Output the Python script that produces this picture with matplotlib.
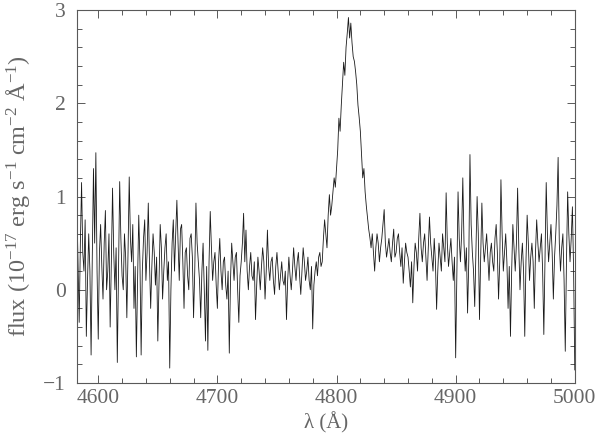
import numpy as np
import matplotlib
matplotlib.use("Agg")
import matplotlib.pyplot as plt
from matplotlib.ticker import MultipleLocator

wave_start, wave_step = 4582, 1
flux = [
    0.95, 0.3, -0.35, 0.5, 1.15, 0.4, 0.2, 0.75, -0.5, 0.1, 0.6, 0.2, -0.7, 0.35, 1.3, 0.5, 1.47, 0.2, -0.53, 0.4,        # 4582-4601
    0.7, 0.25, -0.1, 0.5, 0.85, 0.0, 0.2, 0.6, -0.4, 0.3, 1.09, 0.4, 0.0, 0.45, -0.78, 0.2, 1.16, 0.55, 0.15, 0.0,        # 4602-4621
    0.6, 0.35, -0.3, 0.4, 1.21, 0.55, 0.3, 0.7, -0.2, 0.25, -0.72, 0.1, 0.8, 0.3, -0.7, 0.2, 0.55, 0.75, 0.1, 0.4,        # 4622-4641
    0.93, 0.3, -0.2, 0.25, 0.6, 0.4, 0.05, 0.35, -0.55, 0.1, 0.7, 0.45, -0.1, 0.2, 0.45, 0.6, 0.1, 0.3, -0.84, 0.0,       # 4642-4661
    0.5, 0.75, 0.2, 0.6, 0.96, 0.5, 0.1, 0.65, 0.7, 0.3, -0.2, 0.4, 0.45, 0.15, 0.0, 0.55, 0.6, 0.35, -0.3, 0.2,          # 4662-4681
    0.93, 0.5, 0.3, 0.1, -0.3, 0.2, 0.5, 0.0, -0.55, 0.25, -0.65, 0.3, 0.84, 0.45, 0.1, 0.3, 0.4, 0.05, -0.2, 0.3,        # 4682-4701
    0.55, 0.2, 0.0, 0.3, 0.35, 0.05, -0.1, 0.2, -0.68, 0.1, 0.5, 0.3, 0.1, 0.35, 0.4, 0.0, -0.35, 0.15, 0.3, 0.5,         # 4702-4721
    0.82, 0.3, 0.64, 0.2, 0.0, 0.25, 0.4, 0.15, 0.1, 0.3, -0.32, 0.05, 0.35, 0.2, 0.0, 0.25, 0.45, 0.3, -0.1, 0.2,        # 4722-4741
    0.64, 0.25, 0.1, 0.3, 0.35, 0.1, -0.05, 0.25, 0.4, 0.2, 0.0, 0.15, 0.3, 0.1, 0.05, 0.2, -0.32, 0.1, 0.35, 0.15,       # 4742-4761
    0.0, 0.2, 0.45, 0.25, 0.1, 0.3, 0.4, 0.15, -0.05, 0.2, 0.45, 0.3, 0.1, 0.2, 0.35, 0.1, 0.0, 0.25, -0.42, 0.05,        # 4762-4781
    0.2, 0.3, 0.15, 0.35, 0.4, 0.25, 0.3, 0.55, 0.75, 0.6, 0.45, 0.8, 1.02, 0.8, 0.9, 1.05, 1.2, 1.1, 1.3, 1.5,           # 4782-4801
    1.84, 1.7, 1.98, 2.2, 2.44, 2.3, 2.6, 2.75, 2.92, 2.7, 2.86, 2.65, 2.5, 2.45, 2.34, 2.2, 1.98, 1.85, 1.7, 1.45,       # 4802-4821
    1.2, 1.3, 1.05, 0.9, 0.77, 0.65, 0.56, 0.45, 0.6, 0.4, 0.2, 0.45, 0.6, 0.5, 0.3, 0.45, 0.55, 0.7, 0.86, 0.5,          # 4822-4841
    0.35, 0.45, 0.55, 0.4, 0.3, 0.5, 0.65, 0.35, 0.4, 0.55, 0.6, 0.4, 0.25, 0.45, 0.07, 0.3, 0.5, 0.4, 0.35, 0.2,         # 4842-4861
    0.03, 0.3, -0.14, 0.25, 0.5, 0.4, 0.2, 0.55, 0.82, 0.45, 0.3, 0.5, 0.6, 0.35, 0.1, 0.45, 0.78, 0.5, 0.35, 0.2,        # 4862-4881
    0.55, 0.3, -0.21, 0.2, 0.5, 0.35, 0.2, 0.6, 0.45, 0.3, 1.04, 0.5, 0.25, 0.4, 0.55, 0.3, 0.1, 0.35, -0.73, 0.2,        # 4882-4901
    1.05, 0.55, 0.3, 0.6, 1.2, 0.5, 0.2, 0.45, -0.25, 0.3, 1.45, 0.7, 0.4, 0.2, -0.18, 0.4, 1.0, 0.6, -0.32, 0.35,        # 4902-4921
    0.93, 0.5, 0.3, 0.45, 0.6, 0.35, 0.1, 0.4, 0.5, 0.3, 0.2, 0.55, 0.7, 0.4, -0.1, 0.3, 1.18, 0.6, 0.2, 0.4,             # 4922-4941
    0.6, 0.3, -0.2, 0.25, -0.5, 0.2, 0.7, 0.45, 0.2, 0.5, 1.09, 0.45, 0.0, 0.3, 0.5, 0.2, -0.5, 0.3, 0.8, 0.5,            # 4942-4961
    0.1, 0.35, 0.5, 0.3, -0.2, 0.4, 0.75, 0.5, 0.3, 0.45, 0.6, 0.2, -0.48, 0.3, 1.15, 0.6, 0.3, 0.5, 0.7, 0.4,            # 4962-4981
    -0.1, 0.35, 0.6, 0.9, 1.42, 0.5, 0.2, 0.45, 0.6, 0.1, -0.66, 0.3, 1.05, 0.6, 0.3, 0.55, 0.89, 0.2, -0.86,             # 4982-5000
]
wave = wave_start + wave_step * np.arange(len(flux))

plt.rcParams["font.family"] = ["Liberation Serif", "DejaVu Serif"]
plt.rcParams["mathtext.fontset"] = "custom"
plt.rcParams["mathtext.rm"] = "Liberation Serif"
plt.rcParams["mathtext.it"] = "Liberation Serif:italic"
txt = "0.4"

fig = plt.figure(figsize=(6, 4.37), dpi=100)
ax = fig.add_axes([0.128, 0.1236, 0.83, 0.8534])
ax.plot(wave, flux, color="0.1", lw=0.6)

ax.set_xlim(4582, 5000)
ax.set_ylim(-1, 3)
ax.xaxis.set_major_locator(MultipleLocator(100))
ax.xaxis.set_minor_locator(MultipleLocator(20))
ax.yaxis.set_major_locator(MultipleLocator(1))
ax.yaxis.set_minor_locator(MultipleLocator(0.2))
ax.tick_params(which="both", direction="in", top=True, right=True,
               color="0.35", width=0.7, labelsize=15.5, labelcolor=txt)
ax.tick_params(which="major", length=6)
ax.tick_params(which="minor", length=3.5)
ax.tick_params(axis="x", pad=4)
ax.tick_params(axis="y", pad=8)
for s in ax.spines.values():
    s.set_color("0.35")
    s.set_linewidth(0.8)

ax.set_xlabel("λ (Å)", fontsize=15, color=txt)
ax.xaxis.set_label_coords(0.5, -0.078)
ax.set_ylabel(r"flux (10$^{-17}$ erg s$^{-1}$ cm$^{-2}$ Å$^{-1}$)",
              fontsize=17.5, color=txt, labelpad=8)

fig.savefig("out.png", dpi=100)
